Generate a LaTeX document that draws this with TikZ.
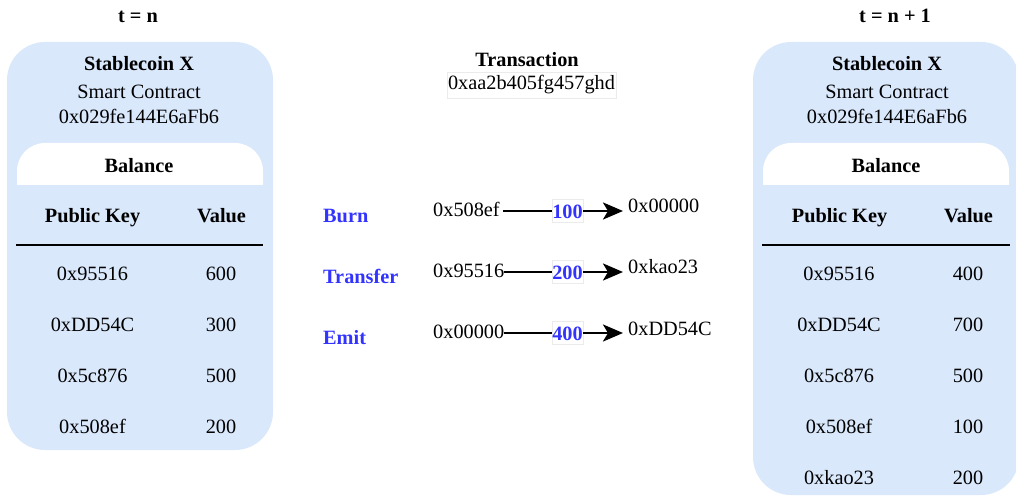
\documentclass[tikz,border=0pt]{standalone}
\usepackage{fontspec}
\setmainfont{Liberation Serif}
\usetikzlibrary{arrows.meta}
\definecolor{boxblue}{HTML}{DAE8FC}
\definecolor{opblue}{HTML}{3333FF}
\begin{document}
\begin{tikzpicture}[x=1pt,y=-1pt,
  txt/.style={font=\fontsize{20.3}{24}\selectfont, inner sep=0pt, anchor=base},
  bld/.style={txt, font=\fontsize{20.3}{24}\selectfont\bfseries},
  op/.style={bld, text=opblue, anchor=base west},
  src/.style={txt, anchor=west, text height=14pt, text depth=4pt},
  dst/.style={txt, anchor=west, inner xsep=5pt, text height=14pt, text depth=4pt},
  amt/.style={bld, text=opblue, anchor=center, draw=black!8, fill=white,
    inner xsep=0.5pt, inner ysep=0pt, minimum height=23pt, text height=15pt, text depth=0pt},
  conn/.style={line width=2.6pt},
  arr/.style={conn, -{Stealth[length=20pt,width=17pt,inset=5pt]}},
  rule/.style={line width=2.2pt},
  txbox/.style={txt, draw=black!8, inner xsep=1pt, inner ysep=4pt}
]
\useasboundingbox (0,0) rectangle (1016,497);

% ---------- left contract ----------
\fill[boxblue, rounded corners=38] (7,42) rectangle (273,450);
\begin{scope}
  \clip (17,143) rectangle (263,184);
  \fill[white, rounded corners=28] (17,143) rectangle (263,240);
\end{scope}
\node[bld] (tn) at (138,23) {t = n};
\node[bld] (lname) at (139,71) {Stablecoin X};
\node[txt] (lsc) at (139,99) {Smart Contract};
\node[txt] (laddr) at (139,124) {0x029fe144E6aFb6};
\node[bld] (lbal) at (139,172) {Balance};
\node[bld] (lhk) at (92.5,222) {Public Key};
\node[bld] (lhv) at (221.5,222) {Value};
\draw[rule] (16,245) -- (263,245);
\node[txt] (lk1) at (92.5,280) {0x95516};
\node[txt] (lv1) at (221,280) {600};
\node[txt] (lk2) at (92.5,331) {0xDD54C};
\node[txt] (lv2) at (221,331) {300};
\node[txt] (lk3) at (92.5,382) {0x5c876};
\node[txt] (lv3) at (221,382) {500};
\node[txt] (lk4) at (92.5,433) {0x508ef};
\node[txt] (lv4) at (221,433) {200};

% ---------- right contract ----------
\fill[boxblue, rounded corners=38] (753,42) rectangle (1019,495);
\begin{scope}
  \clip (763,143) rectangle (1009,184);
  \fill[white, rounded corners=28] (763,143) rectangle (1009,240);
\end{scope}
\node[bld] (tn1) at (895,23) {t = n + 1};
\node[bld] (rname) at (887,71) {Stablecoin X};
\node[txt] (rsc) at (887,99) {Smart Contract};
\node[txt] (raddr) at (887,124) {0x029fe144E6aFb6};
\node[bld] (rbal) at (886,172) {Balance};
\node[bld] (rhk) at (839.5,222) {Public Key};
\node[bld] (rhv) at (968.5,222) {Value};
\draw[rule] (762,245) -- (1010,245);
\node[txt] (rk1) at (839,280) {0x95516};
\node[txt] (rv1) at (968,280) {400};
\node[txt] (rk2) at (839,331) {0xDD54C};
\node[txt] (rv2) at (968,331) {700};
\node[txt] (rk3) at (839,382) {0x5c876};
\node[txt] (rv3) at (968,382) {500};
\node[txt] (rk4) at (839,433) {0x508ef};
\node[txt] (rv4) at (968,433) {100};
\node[txt] (rk5) at (839,484) {0xkao23};
\node[txt] (rv5) at (968,484) {200};

% ---------- transaction ----------
\node[bld] (tx) at (527,67) {Transaction};
\node[txbox] (txid) at (531.5,90) {0xaa2b405fg457ghd};

\node[op] (burn) at (323,222) {Burn};
\node[op] (transfer) at (323,283) {Transfer};
\node[op] (emit) at (323,344) {Emit};

\node[src] (s1) at (433,211) {0x508ef\,};
\node[amt] (a1) at (567.5,211) {100};
\node[dst] (d1) at (623,207) {0x00000};
\draw[conn] (s1.east) -- (a1.west);
\draw[arr] (a1.east) -- (a1.east -| d1.west);

\node[src] (s2) at (433,272) {0x95516};
\node[amt] (a2) at (567.5,272) {200};
\node[dst] (d2) at (623,268) {0xkao23};
\draw[conn] (s2.east) -- (a2.west);
\draw[arr] (a2.east) -- (a2.east -| d2.west);

\node[src] (s3) at (433,333) {0x00000};
\node[amt] (a3) at (567.5,333) {400};
\node[dst] (d3) at (623,330) {0xDD54C};
\draw[conn] (s3.east) -- (a3.west);
\draw[arr] (a3.east) -- (a3.east -| d3.west);
\end{tikzpicture}
\end{document}
